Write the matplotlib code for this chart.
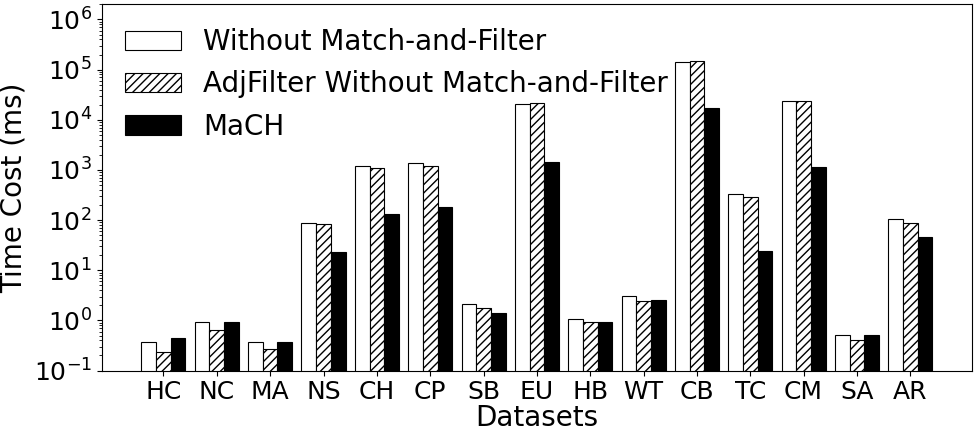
import numpy as np
import matplotlib.pyplot as plt

datasets = ['HC', 'NC', 'MA', 'NS', 'CH', 'CP', 'SB', 'EU', 'HB', 'WT',
            'CB', 'TC', 'CM', 'SA', 'AR']
without_mf = [0.38, 0.95, 0.37, 89, 1190, 1350, 2.1, 21000, 1.07, 3.1,
              143000, 326, 24000, 0.52, 104]
adjfilter_without_mf = [0.23, 0.64, 0.27, 85, 1090, 1210, 1.8, 21600, 0.91, 2.4,
                        146000, 288, 23300, 0.41, 86]
mach = [0.45, 0.91, 0.38, 23.5, 132, 182, 1.4, 1410, 0.91, 2.6,
        17500, 24.7, 1170, 0.52, 45.5]

plt.rcParams['font.size'] = 18

x = np.arange(len(datasets))
w = 0.275

fig, ax = plt.subplots(figsize=(9.77, 4.36), dpi=100)
ax.bar(x - w, without_mf, w, color='white', edgecolor='black', linewidth=0.8,
       label='Without Match-and-Filter')
ax.bar(x, adjfilter_without_mf, w, color='white', edgecolor='black', linewidth=0.8,
       hatch='////', label='AdjFilter Without Match-and-Filter')
ax.bar(x + w, mach, w, color='black', edgecolor='black', linewidth=0.8,
       label='MaCH')

ax.set_yscale('log')
ax.set_ylim(0.1, 2e6)
ax.set_xlim(-1.16, len(datasets) - 1 + 1.16)
ax.set_xticks(x)
ax.set_xticklabels(datasets)
ax.set_xlabel('Datasets', fontsize=20, labelpad=0)
ax.set_ylabel('Time Cost (ms)', fontsize=20)
ax.legend(loc='upper left', frameon=False, fontsize=20, handlelength=2.0,
          handletextpad=0.8, labelspacing=0.52, borderaxespad=0.45)

plt.subplots_adjust(left=0.104, right=0.995, top=0.99, bottom=0.15)
plt.savefig('out.png')
